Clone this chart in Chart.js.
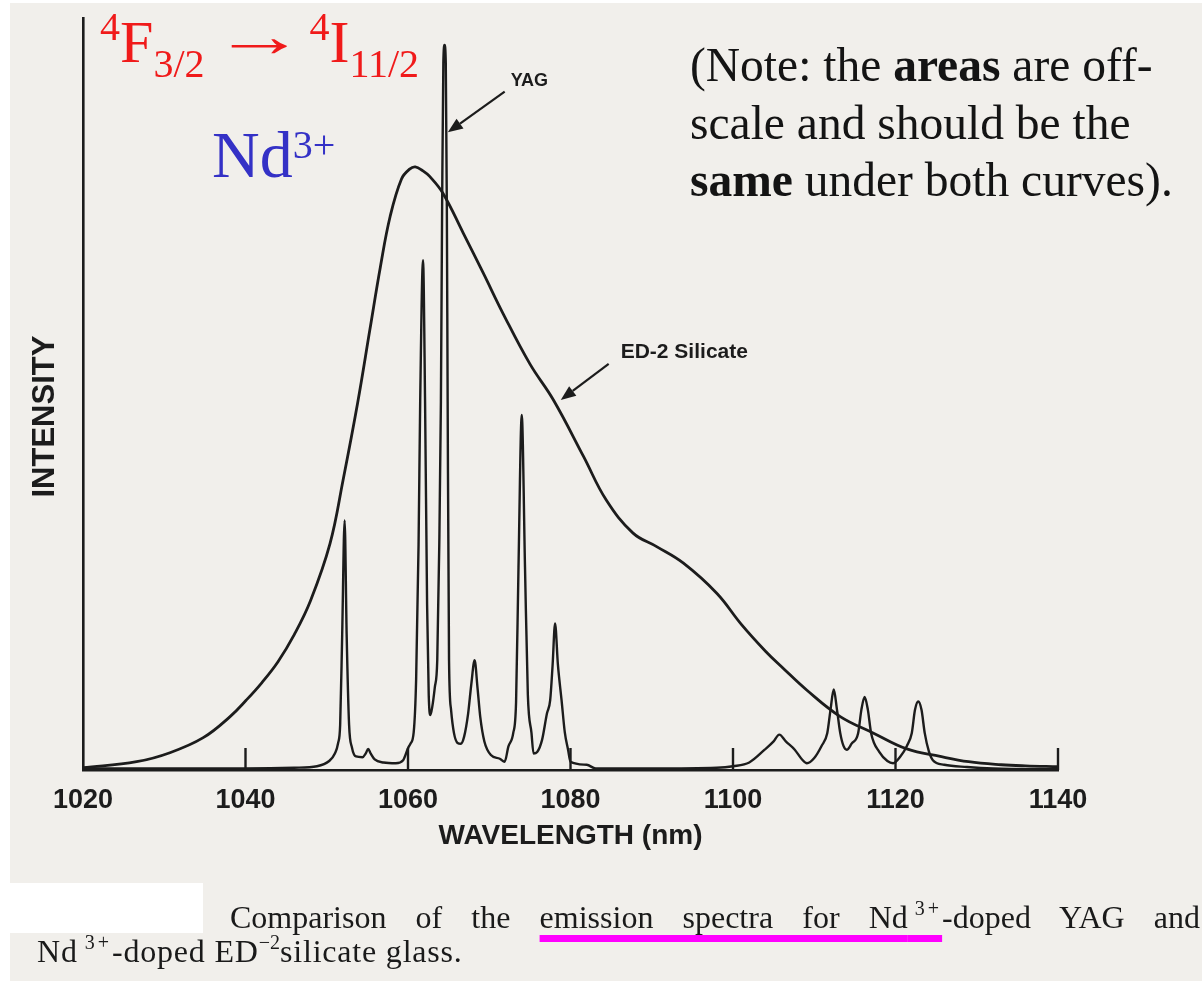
<!DOCTYPE html>
<html>
<head>
<meta charset="utf-8">
<title>Nd3+ emission spectra</title>
<script src="https://cdn.jsdelivr.net/npm/chart.js@4.4.1/dist/chart.umd.min.js"></script>
<style>
    html, body { margin: 0; padding: 0; background: #ffffff; }
    #page { position: absolute; left: 10px; top: 3px; width: 1192px; height: 978px; background: #f1efeb; }
    #wrap { position: absolute; left: 0; top: 0; width: 1202px; height: 981px; }
    .serif { font-family: "Liberation Serif", "Times New Roman", serif; position: absolute; white-space: nowrap; }
    .up, .dn { position: relative; line-height: 0; vertical-align: baseline; }
    #transition { left: 100px; top: 12px; font-size: 60px; line-height: 60px; color: #f01a1a; }
    #transition .up { font-size: 40px; top: -22px; }
    #transition .dn { font-size: 40px; top: 15px; }
    #transition .arrow { display: inline-block; width: 97px; margin-left: 8px; line-height: 0;
                         transform: translateY(-6px) scaleX(1.55); transform-origin: left center; }
    #ion { left: 212px; top: 122px; font-size: 66px; line-height: 66px; color: #3431c6; }
    #ion .up { font-size: 40px; top: -19px; }
    #note { left: 690px; top: 37px; font-size: 47.5px; line-height: 57.5px; color: #141414; }
    #whitebox { position: absolute; left: 10px; top: 883px; width: 193px; height: 50px; background: #ffffff; }
    .caption { font-size: 32px; line-height: 32px; color: #1a1a1a; }
    #cap1 { left: 230px; top: 901px; width: 970px; text-align: justify; text-align-last: justify; }
    #cap2 { left: 37px; top: 935px; letter-spacing: 0.8px; }
    .caption .up { font-size: 20px; top: -13px; letter-spacing: 3px; }
    .mark { text-decoration: underline; text-decoration-color: #ff00ff; text-decoration-thickness: 7px;
            text-underline-offset: 7px; text-decoration-skip-ink: none; }
</style>
</head>
<body>
<div id="page"></div>
<div id="wrap"><canvas id="spectrum" width="1202" height="981"></canvas></div>

<div id="transition" class="serif"><span class="up">4</span>F<span class="dn">3/2</span><span class="arrow">&rarr;</span><span class="up">4</span>I<span class="dn">11/2</span></div>
<div id="ion" class="serif">Nd<span class="up">3+</span></div>
<div id="note" class="serif">(Note: the <b>areas</b> are off-<br>scale and should be the<br><b>same</b> under both curves).</div>

<div id="whitebox"></div>
<div id="cap1" class="serif caption">Comparison of the <span class="mark">emission spectra for Nd<span class="up">&thinsp;3+</span></span>-doped YAG and</div>
<div id="cap2" class="serif caption">Nd<span class="up">&thinsp;3+</span>-doped ED<span class="up" style="letter-spacing:0">&minus;2</span>silicate glass.</div>

<script>

// wavelength axis ticks (nm)
const xTicks = [1020, 1040, 1060, 1080, 1100, 1120, 1140];

// Nd:YAG - sharp Stark lines
const yagWavelength = [
    1020, 1030, 1040, 1046, 1048.8, 1050.3, 1051.0, 1051.4, 1051.65, 1051.9, 1052.2, 1052.45, 1052.75, 1053.1,
    1053.6, 1054.4, 1054.8, 1055.1, 1055.4, 1055.9, 1057, 1058.5, 1059.4, 1060.0, 1060.3, 1060.7, 1061.0, 1061.3,
    1061.5, 1061.85, 1062.1, 1062.35, 1062.55, 1062.75, 1063.0, 1063.3, 1063.6, 1063.85, 1064.05, 1064.2, 1064.35,
    1064.5, 1064.65, 1064.78, 1064.88, 1065.05, 1065.3, 1065.66, 1066.1, 1066.5, 1066.9, 1067.4, 1067.8, 1068.2,
    1068.55, 1068.9, 1069.4, 1070.2, 1071.3, 1071.9, 1072.35, 1072.95, 1073.3, 1073.6, 1074.0, 1074.4, 1074.75,
    1075.2, 1075.45, 1075.9, 1076.5, 1077.1, 1077.5, 1077.8, 1078.1, 1078.45, 1078.9, 1079.3, 1079.7, 1080.0,
    1082, 1083.1, 1090, 1098, 1100, 1102, 1103.9, 1105.0, 1105.7, 1106.5, 1107.6, 1108.5, 1109.1, 1110.0, 1110.9,
    1111.6, 1112.0, 1112.4, 1112.8, 1113.2, 1113.6, 1114.0, 1114.6, 1115.4, 1115.8, 1116.2, 1116.6, 1117.0,
    1118.0, 1119.0, 1119.7, 1120.6, 1121.4, 1122.0, 1122.4, 1122.8, 1123.2, 1123.6, 1124.1, 1124.6, 1126,
    1128.8, 1132, 1140
];
const yagIntensity = [
    0.2, 0.2, 0.2, 0.3, 0.5, 1.2, 2.2, 3.6, 6, 18, 33.2, 18, 6, 3,
    1.8, 1.7, 2.2, 2.8, 2.2, 1.4, 1.0, 0.9, 1.3, 2.9, 3.5, 5, 12, 30,
    49, 67.8, 49, 22, 10, 7.3, 8.5, 11, 14.6, 30, 49, 75, 94,
    96.4, 94, 75, 49, 14.6, 8, 4.9, 3.6, 3.5, 4.4, 7.5, 11.5, 14.6,
    11, 7, 3.8, 2, 1.5, 1.1, 3.1, 4.9, 9, 27, 47.2, 27, 10,
    4.9, 2.2, 2.4, 4, 7.5, 9.3, 14, 19.5, 14, 9.3, 5, 2.7, 1.1,
    0.7, 0.2, 0.2, 0.3, 0.5, 1.0, 2.7, 3.8, 4.7, 3.8, 2.7, 1.4, 0.9, 1.6, 3.2,
    4.9, 8, 10.7, 8, 4.9, 3.2, 2.7, 3.5, 4.9, 8, 9.7, 8, 4.9,
    2.4, 1.2, 0.9, 1.8, 3.2, 4.9, 8, 9.1, 8, 4.9, 2.5, 1.3, 0.7,
    0.4, 0.2, 0.1
];

// Nd:ED-2 silicate glass - broad band
const silicateWavelength = [
    1020, 1026.6, 1030.7, 1034.8, 1038.1, 1040.1, 1042, 1044, 1046, 1048, 1050.4, 1052, 1053.8, 1055.3,
    1056.6, 1057.8, 1059.2, 1060.2, 1060.9, 1061.8, 1062.7, 1064.3, 1066.8, 1069.3, 1071.7, 1075,
    1077.9, 1081.6, 1084.4, 1087.7, 1090.6, 1093.9, 1098, 1101, 1104, 1106.2, 1109.1, 1113.2, 1117.3,
    1121.4, 1125.5, 1129, 1133, 1136, 1140
];
const silicateIntensity = [
    0.3, 1.1, 2.3, 4.3, 7.1, 9.3, 11.6, 14.4, 18.0, 22.5, 30.1, 38.5, 48.8, 58.5,
    66.9, 73.6, 78.6, 79.9, 80.2, 79.7, 78.9, 76.7, 71.4, 66, 60.7, 54,
    49.2, 41.7, 35.9, 31.5, 29.7, 27.5, 23.5, 19.4, 15.8, 13.5, 10.6, 7.1, 4.9,
    2.8, 1.8, 1.1, 0.7, 0.55, 0.45
];

// arrow callouts, in data units (nm, intensity); label offset in px from the tail
const callouts = [
    { text: "YAG", tail: [1071.9, 90.2], tip: [1064.9, 84.8], dx: 6, dy: -6, size: 18 },
    { text: "ED-2 Silicate", tail: [1084.7, 54.0], tip: [1078.8, 49.2], dx: 12, dy: -6, size: 21 }
];

const ink = "#1c1c1c";
const sans = "'Liberation Sans', Arial, sans-serif";

function toPoints(xs, ys) {
    return xs.map((x, i) => ({ x: x, y: ys[i] }));
}

// tick marks point up into the plot
const innerTicks = {
    id: "innerTicks",
    afterDatasetsDraw(chart) {
        const { ctx, scales: { x }, chartArea } = chart;
        ctx.save();
        ctx.strokeStyle = ink;
        ctx.lineWidth = 2.4;
        xTicks.slice(1).forEach(v => {
            const px = x.getPixelForValue(v);
            ctx.beginPath();
            ctx.moveTo(px, chartArea.bottom);
            ctx.lineTo(px, chartArea.bottom - 22);
            ctx.stroke();
        });
        ctx.restore();
    }
};

// y axis label sits a little below the middle of the axis in the original
const yLabel = {
    id: "yLabel",
    afterDraw(chart) {
        const { ctx, scales: { y } } = chart;
        ctx.save();
        ctx.translate(45, y.getPixelForValue(47));
        ctx.rotate(-Math.PI / 2);
        ctx.font = "bold 31px " + sans;
        ctx.fillStyle = ink;
        ctx.textAlign = "center";
        ctx.textBaseline = "middle";
        ctx.fillText("INTENSITY", 0, 0);
        ctx.restore();
    }
};

const arrows = {
    id: "arrows",
    afterDatasetsDraw(chart) {
        const { ctx, scales: { x, y } } = chart;
        ctx.save();
        callouts.forEach(c => {
            const x0 = x.getPixelForValue(c.tail[0]), y0 = y.getPixelForValue(c.tail[1]);
            const x1 = x.getPixelForValue(c.tip[0]), y1 = y.getPixelForValue(c.tip[1]);
            const a = Math.atan2(y1 - y0, x1 - x0);
            const head = 15, half = 6;
            const bx = x1 - head * Math.cos(a), by = y1 - head * Math.sin(a);

            ctx.strokeStyle = ink;
            ctx.fillStyle = ink;
            ctx.lineWidth = 2.2;
            ctx.beginPath();
            ctx.moveTo(x0, y0);
            ctx.lineTo(bx, by);
            ctx.stroke();

            ctx.beginPath();
            ctx.moveTo(x1, y1);
            ctx.lineTo(bx + half * Math.sin(a), by - half * Math.cos(a));
            ctx.lineTo(bx - half * Math.sin(a), by + half * Math.cos(a));
            ctx.closePath();
            ctx.fill();

            ctx.font = "bold " + c.size + "px " + sans;
            ctx.textAlign = "left";
            ctx.textBaseline = "alphabetic";
            ctx.fillText(c.text, x0 + c.dx, y0 + c.dy);
        });
        ctx.restore();
    }
};

const canvas = document.getElementById("spectrum");

new Chart(canvas.getContext("2d"), {
    type: "line",
    data: {
        datasets: [
            {
                label: "YAG",
                data: toPoints(yagWavelength, yagIntensity),
                borderColor: ink,
                borderWidth: 2.4,
                borderJoinStyle: "round",
                cubicInterpolationMode: "monotone",
                pointRadius: 0,
                clip: false
            },
            {
                label: "ED-2 Silicate",
                data: toPoints(silicateWavelength, silicateIntensity),
                borderColor: ink,
                borderWidth: 2.8,
                borderJoinStyle: "round",
                tension: 0.4,
                pointRadius: 0,
                clip: false
            }
        ]
    },
    options: {
        responsive: false,
        devicePixelRatio: 1,
        animation: false,
        layout: { padding: { left: 0, right: 144, top: 18, bottom: 121 } },
        plugins: {
            legend: { display: false },
            tooltip: { enabled: false }
        },
        scales: {
            x: {
                type: "linear",
                min: 1020,
                max: 1140,
                afterBuildTicks: s => { s.ticks = xTicks.map(v => ({ value: v })); },
                afterFit: s => { s.height = 90; },
                grid: { display: false },
                border: { display: true, color: ink, width: 2.6 },
                ticks: {
                    color: ink,
                    padding: 6,
                    maxRotation: 0,
                    autoSkip: false,
                    callback: v => String(v),
                    font: { family: sans, weight: "bold", size: 27 }
                },
                title: {
                    display: true,
                    text: "WAVELENGTH (nm)",
                    color: ink,
                    padding: { top: 0, bottom: 7 },
                    font: { family: sans, weight: "bold", size: 28 }
                }
            },
            y: {
                min: 0,
                max: 100,
                afterFit: s => { s.width = 83; },
                grid: { display: false },
                border: { display: true, color: ink, width: 2.6 },
                ticks: { display: false },
                title: { display: false }
            }
        }
    },
    plugins: [innerTicks, arrows, yLabel]
});

</script>
</body>
</html>
